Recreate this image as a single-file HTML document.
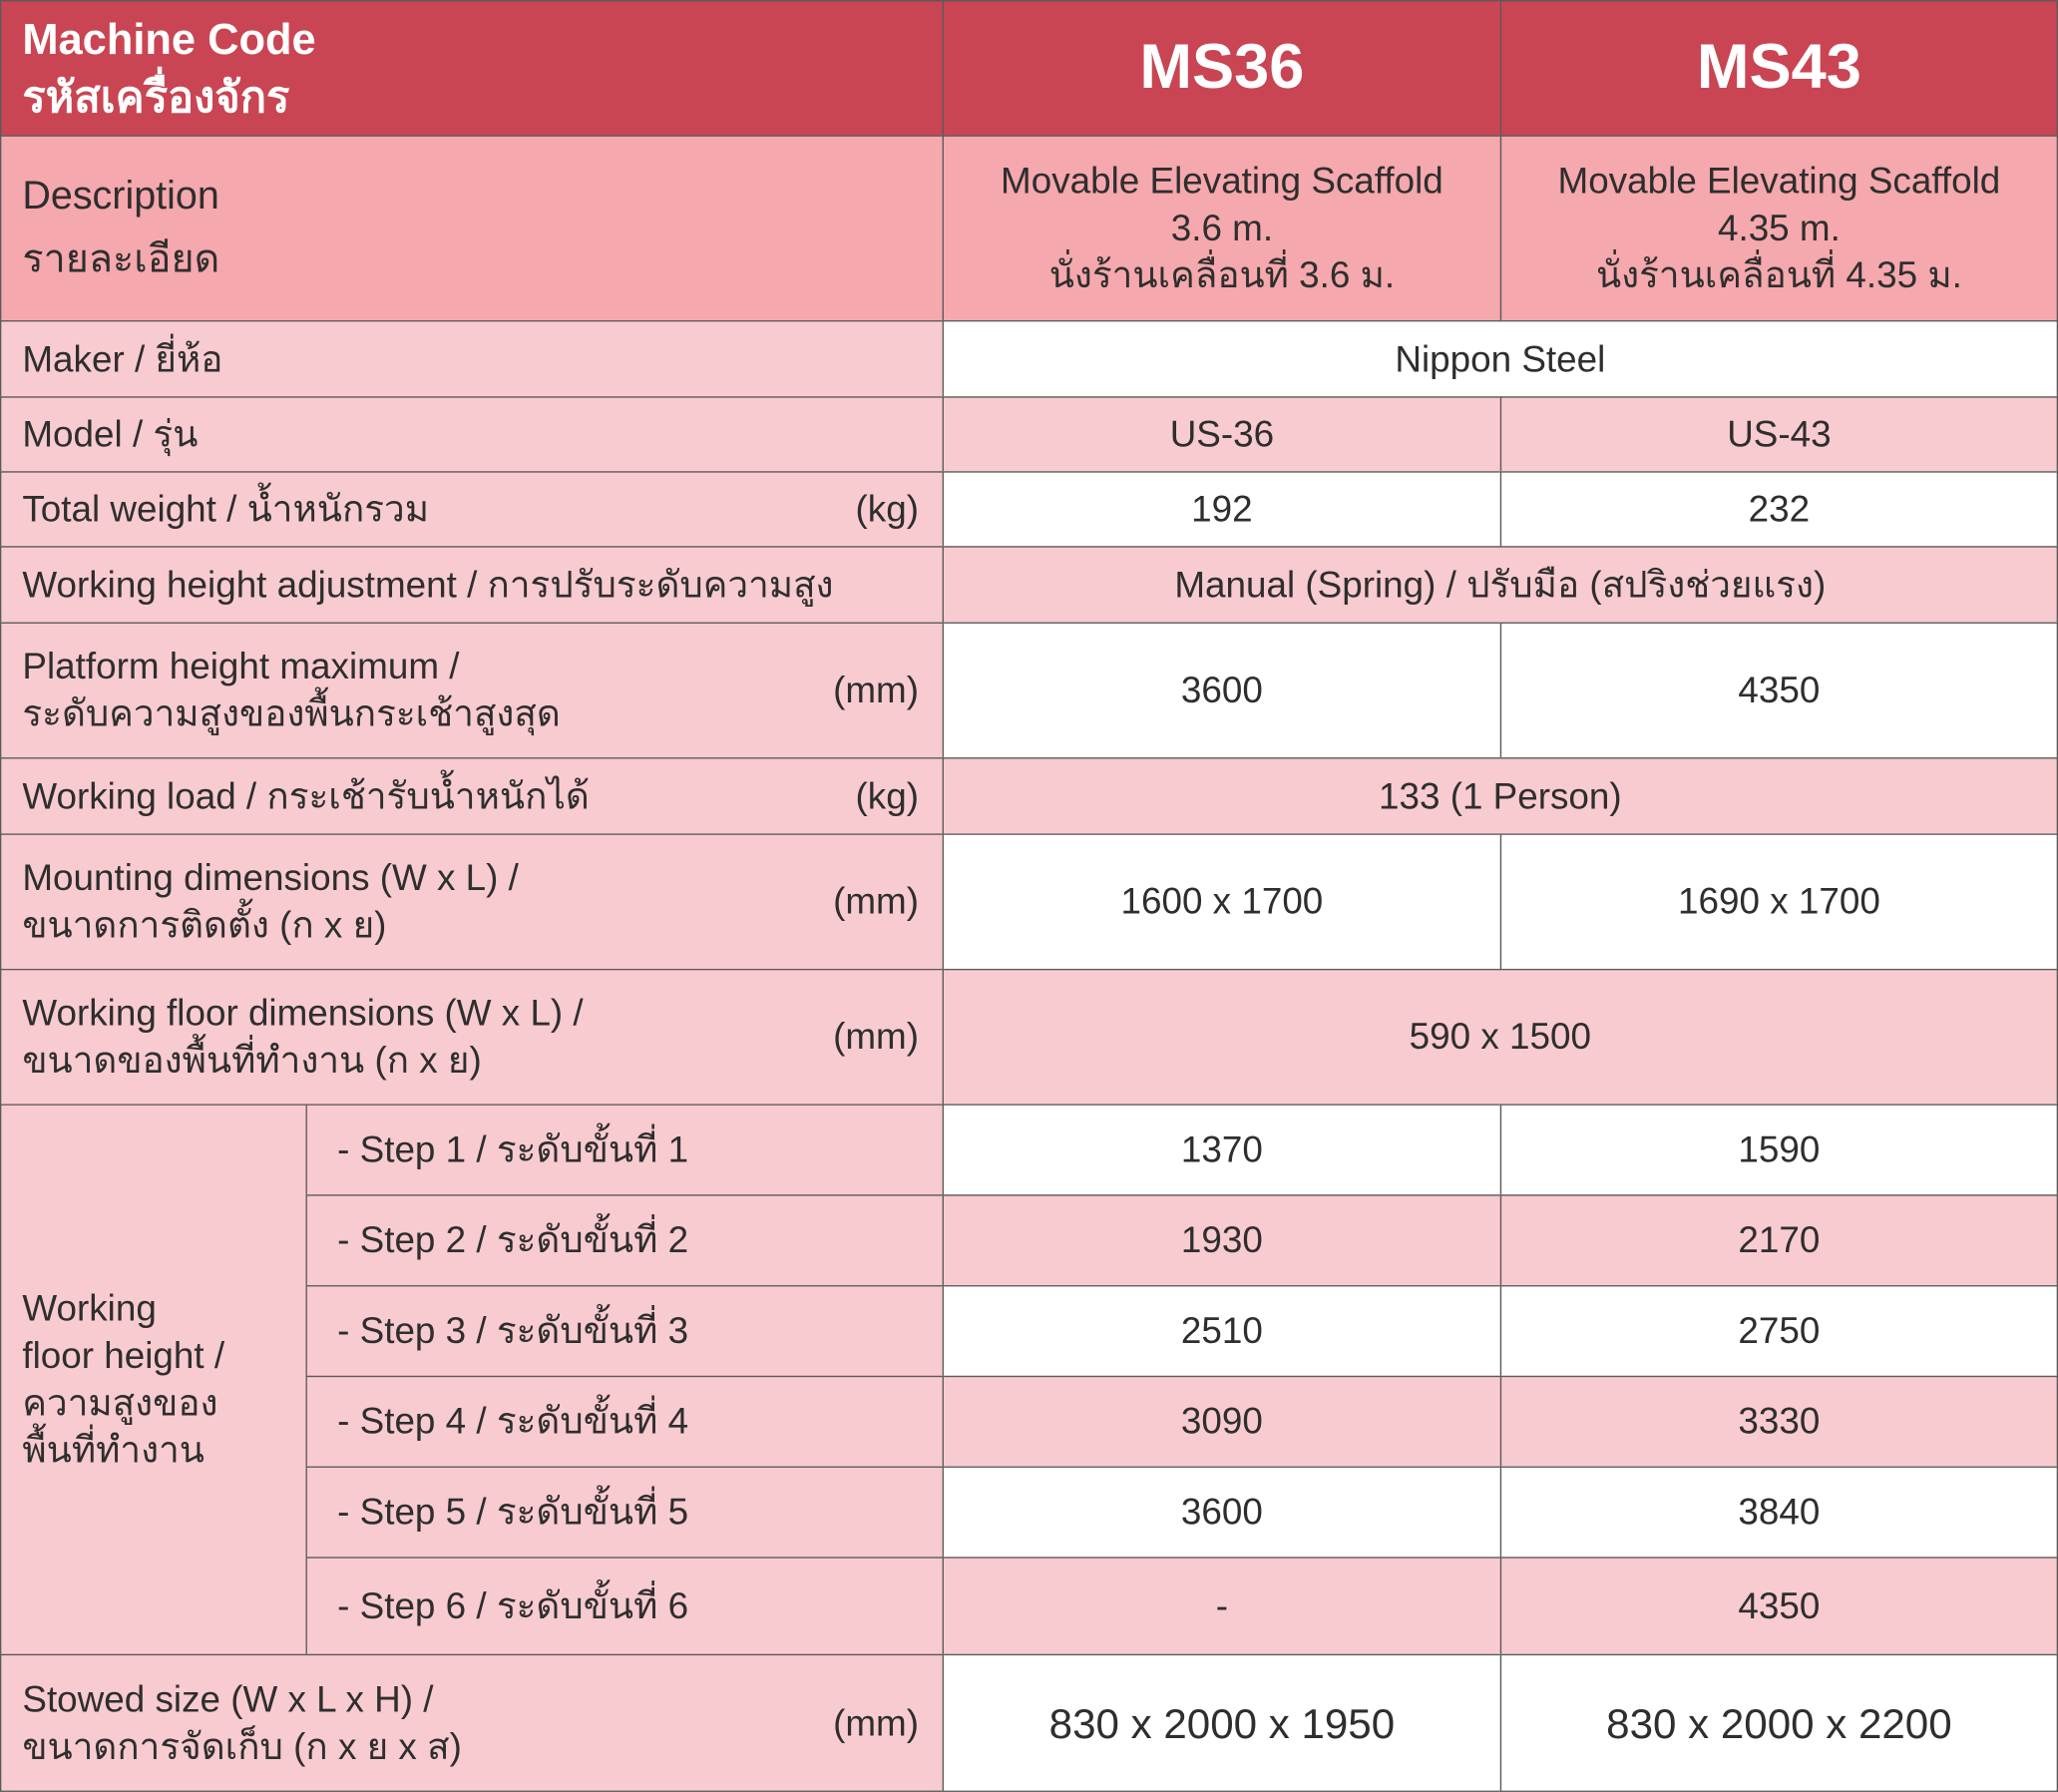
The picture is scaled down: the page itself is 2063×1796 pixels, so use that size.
<!DOCTYPE html>
<html><head><meta charset="utf-8">
<style>
html,body{margin:0;padding:0;background:#fff;}
body{width:2063px;height:1796px;overflow:hidden;}
#w{position:absolute;left:0;top:0;width:1568px;height:1365px;transform:scale(1.31569);transform-origin:0 0;font-family:"Liberation Sans","Noto Sans CJK SC",sans-serif;color:#2e2e2e;}
.c{position:absolute;box-sizing:border-box;border:1px solid #5a5a5a;display:flex;align-items:center;font-size:28px;line-height:36px;}
.l{padding-left:16px;justify-content:flex-start;}
.m{justify-content:center;text-align:center;}
.h{background:#c94553;color:#fff;font-weight:bold;}
.d{background:#f5a8ad;}
.p{background:#f8cbd0;}
.wh{background:#fff;}
.u{position:absolute;right:18px;font-size:28px;}
</style></head><body><div id="w">
<div class="c h l" style="left:0;top:0;width:719px;height:104px;font-size:33px;line-height:44px;">Machine Code<br>รหัสเครื่องจักร</div>
<div class="c h m" style="left:718;left:718px;top:0;width:426px;height:104px;font-size:48px;">MS36</div>
<div class="c h m" style="left:1143px;top:0;width:425px;height:104px;font-size:48px;">MS43</div>

<div class="c d l" style="left:0;top:103px;width:719px;height:142px;font-size:30px;line-height:48px;">Description<br>รายละเอียด</div>
<div class="c d m" style="left:718px;top:103px;width:426px;height:142px;">Movable Elevating Scaffold<br>3.6 m.<br>นั่งร้านเคลื่อนที่ 3.6 ม.</div>
<div class="c d m" style="left:1143px;top:103px;width:425px;height:142px;">Movable Elevating Scaffold<br>4.35 m.<br>นั่งร้านเคลื่อนที่ 4.35 ม.</div>

<div class="c p l" style="left:0;top:244px;width:719px;height:59px;">Maker / ยี่ห้อ</div>
<div class="c wh m" style="left:718px;top:244px;width:850px;height:59px;">Nippon Steel</div>

<div class="c p l" style="left:0;top:302px;width:719px;height:58px;">Model / รุ่น</div>
<div class="c p m" style="left:718px;top:302px;width:426px;height:58px;">US-36</div>
<div class="c p m" style="left:1143px;top:302px;width:425px;height:58px;">US-43</div>

<div class="c p l" style="left:0;top:359px;width:719px;height:58px;">Total weight / น้ำหนักรวม<span class="u">(kg)</span></div>
<div class="c wh m" style="left:718px;top:359px;width:426px;height:58px;">192</div>
<div class="c wh m" style="left:1143px;top:359px;width:425px;height:58px;">232</div>

<div class="c p l" style="left:0;top:416px;width:719px;height:59px;">Working height adjustment / การปรับระดับความสูง</div>
<div class="c p m" style="left:718px;top:416px;width:850px;height:59px;">Manual (Spring) / ปรับมือ (สปริงช่วยแรง)</div>

<div class="c p l" style="left:0;top:474px;width:719px;height:104px;">Platform height maximum /<br>ระดับความสูงของพื้นกระเช้าสูงสุด<span class="u">(mm)</span></div>
<div class="c wh m" style="left:718px;top:474px;width:426px;height:104px;">3600</div>
<div class="c wh m" style="left:1143px;top:474px;width:425px;height:104px;">4350</div>

<div class="c p l" style="left:0;top:577px;width:719px;height:59px;">Working load / กระเช้ารับน้ำหนักได้<span class="u">(kg)</span></div>
<div class="c p m" style="left:718px;top:577px;width:850px;height:59px;">133 (1 Person)</div>

<div class="c p l" style="left:0;top:635px;width:719px;height:104px;">Mounting dimensions (W x L) /<br>ขนาดการติดตั้ง (ก x ย)<span class="u">(mm)</span></div>
<div class="c wh m" style="left:718px;top:635px;width:426px;height:104px;">1600 x 1700</div>
<div class="c wh m" style="left:1143px;top:635px;width:425px;height:104px;">1690 x 1700</div>

<div class="c p l" style="left:0;top:738px;width:719px;height:104px;">Working floor dimensions (W x L) /<br>ขนาดของพื้นที่ทำงาน (ก x ย)<span class="u">(mm)</span></div>
<div class="c p m" style="left:718px;top:738px;width:850px;height:104px;">590 x 1500</div>

<div class="c p l" style="left:0;top:841px;width:234px;height:420px;">Working<br>floor height /<br>ความสูงของ<br>พื้นที่ทำงาน</div>

<div class="c p l" style="left:233px;top:841px;width:486px;height:70px;padding-left:23px;">- Step 1 / ระดับขั้นที่ 1</div>
<div class="c wh m" style="left:718px;top:841px;width:426px;height:70px;">1370</div>
<div class="c wh m" style="left:1143px;top:841px;width:425px;height:70px;">1590</div>

<div class="c p l" style="left:233px;top:910px;width:486px;height:70px;padding-left:23px;">- Step 2 / ระดับขั้นที่ 2</div>
<div class="c p m" style="left:718px;top:910px;width:426px;height:70px;">1930</div>
<div class="c p m" style="left:1143px;top:910px;width:425px;height:70px;">2170</div>

<div class="c p l" style="left:233px;top:979px;width:486px;height:70px;padding-left:23px;">- Step 3 / ระดับขั้นที่ 3</div>
<div class="c wh m" style="left:718px;top:979px;width:426px;height:70px;">2510</div>
<div class="c wh m" style="left:1143px;top:979px;width:425px;height:70px;">2750</div>

<div class="c p l" style="left:233px;top:1048px;width:486px;height:70px;padding-left:23px;">- Step 4 / ระดับขั้นที่ 4</div>
<div class="c p m" style="left:718px;top:1048px;width:426px;height:70px;">3090</div>
<div class="c p m" style="left:1143px;top:1048px;width:425px;height:70px;">3330</div>

<div class="c p l" style="left:233px;top:1117px;width:486px;height:70px;padding-left:23px;">- Step 5 / ระดับขั้นที่ 5</div>
<div class="c wh m" style="left:718px;top:1117px;width:426px;height:70px;">3600</div>
<div class="c wh m" style="left:1143px;top:1117px;width:425px;height:70px;">3840</div>

<div class="c p l" style="left:233px;top:1186px;width:486px;height:75px;padding-left:23px;">- Step 6 / ระดับขั้นที่ 6</div>
<div class="c p m" style="left:718px;top:1186px;width:426px;height:75px;">-</div>
<div class="c p m" style="left:1143px;top:1186px;width:425px;height:75px;">4350</div>

<div class="c p l" style="left:0;top:1260px;width:719px;height:105px;">Stowed size (W x L x H) /<br>ขนาดการจัดเก็บ (ก x ย x ส)<span class="u">(mm)</span></div>
<div class="c wh m" style="left:718px;top:1260px;width:426px;height:105px;font-size:32px;">830 x 2000 x 1950</div>
<div class="c wh m" style="left:1143px;top:1260px;width:425px;height:105px;font-size:32px;">830 x 2000 x 2200</div>
</div></body></html>
